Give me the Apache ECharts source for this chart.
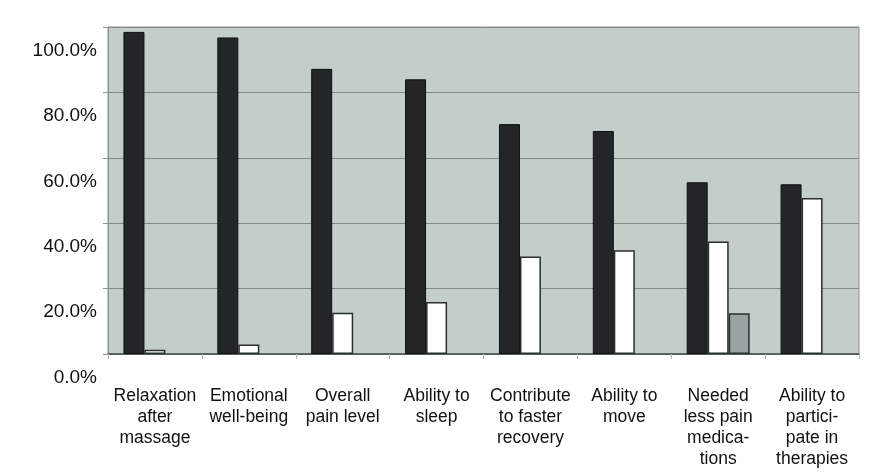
<!DOCTYPE html>
<html>
<head>
<meta charset="utf-8">
<script src="https://cdn.jsdelivr.net/npm/echarts@6/dist/echarts.min.js"></script>
<style>html,body{margin:0;padding:0;background:#fff;}#c{width:885px;height:474px;}</style>
</head>
<body>
<div id="c"></div>
<script>
var categories = [
  "Relaxation\nafter\nmassage",
  "Emotional\nwell-being",
  "Overall\npain level",
  "Ability to\nsleep",
  "Contribute\nto faster\nrecovery",
  "Ability to\nmove",
  "Needed\nless pain\nmedica-\ntions",
  "Ability to\npartici-\npate in\ntherapies"
];
var seriesBlack = [98.5, 96.8, 87.2, 84.0, 70.3, 68.2, 52.5, 51.9];
var seriesWhite = [1.3, 2.9, 12.6, 15.9, 29.8, 31.7, 34.4, 47.7];
var seriesGray  = [null, null, null, null, null, null, 12.5, null];
var yTicks = [0, 20, 40, 60, 80, 100];

var chart = echarts.init(document.getElementById('c'));
chart.setOption({
  animation: false,
  grid: {
    left: 108, right: 26, top: 27, bottom: 120,
    show: true, backgroundColor: '#c3cecb', borderColor: '#8c9594', borderWidth: 1
  },
  xAxis: {
    type: 'category',
    data: categories,
    axisLine: { lineStyle: { color: '#4a4f50', width: 1.5 } },
    axisTick: { show: true, length: 5, lineStyle: { color: '#b0b6b5' } },
    axisLabel: {
      interval: 0, margin: 32, fontFamily: 'Liberation Sans, Arial, sans-serif',
      fontSize: 17.5, lineHeight: 21, color: '#111', verticalAlign: 'top'
    }
  },
  yAxis: {
    type: 'value', min: yTicks[0], max: yTicks[yTicks.length - 1], interval: 20,
    axisLine: { show: true, lineStyle: { color: '#8c9594' } },
    axisTick: { show: true, length: 5, lineStyle: { color: '#8c9594' } },
    splitLine: { lineStyle: { color: '#7f8988', width: 1 } },
    axisLabel: {
      margin: 11, fontFamily: 'Liberation Sans, Arial, sans-serif',
      fontSize: 19, color: '#111', verticalAlign: 'top', lineHeight: 47,
      formatter: function (v) { return v.toFixed(1) + '%'; }
    }
  },
  series: [
    { type: 'bar', data: seriesBlack, barWidth: 21, barGap: '0%',
      itemStyle: { color: '#222628', borderColor: '#111', borderWidth: 1 } },
    { type: 'bar', data: seriesWhite, barWidth: 21, barGap: '0%',
      itemStyle: { color: '#ffffff', borderColor: '#2a2d2e', borderWidth: 1.5 } },
    { type: 'bar', data: seriesGray, barWidth: 21, barGap: '0%',
      itemStyle: { color: '#9aa2a2', borderColor: '#2a2d2e', borderWidth: 1.5 } }
  ]
});
</script>
</body>
</html>
